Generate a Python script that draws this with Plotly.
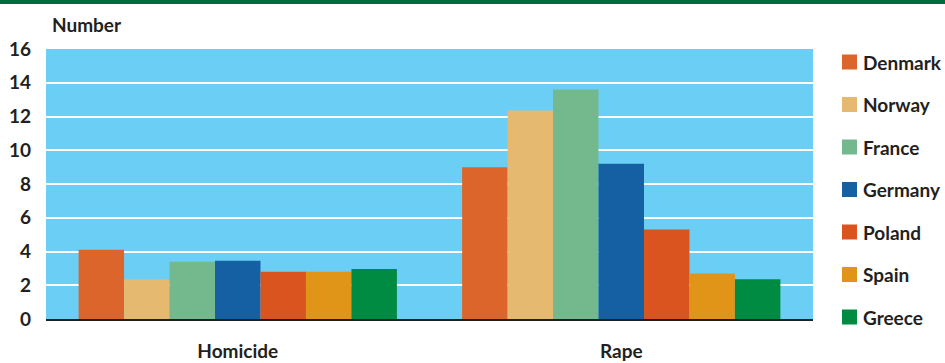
import plotly.graph_objects as go

categories = ["Homicide", "Rape"]
countries = ["Denmark", "Norway", "France", "Germany", "Poland", "Spain", "Greece"]
homicide = [4.1, 2.35, 3.4, 3.45, 2.8, 2.8, 2.97]
rape = [9.0, 12.35, 13.6, 9.2, 5.3, 2.7, 2.35]
colors = ["#dc652c", "#e5b970", "#74b88e", "#1560a3", "#d9541f", "#e09418", "#008b43"]
y_ticks = [0, 2, 4, 6, 8, 10, 12, 14, 16]

FONT = "Lato"
TXT = "#231f20"
W, H = 945, 363
ML, MR, MT, MB = 46, 132, 49, 44
PW, PH = W - ML - MR, H - MT - MB


def px_x(x):
    return (x - ML) / PW


def px_y(y):
    return (H - MB - y) / PH


fig = go.Figure()
for i, c in enumerate(countries):
    fig.add_trace(go.Bar(
        x=categories, y=[homicide[i], rape[i]], name=c,
        marker=dict(color=colors[i], line=dict(width=0)),
    ))

shapes = [dict(type="rect", xref="paper", yref="paper",
               x0=px_x(0), x1=px_x(W), y0=px_y(4), y1=px_y(-1),
               fillcolor="#006b3f", line=dict(width=0))]
annotations = [dict(text="<b>Number</b>", xref="paper", yref="paper", x=px_x(50), y=px_y(24),
                    xanchor="left", yanchor="middle", showarrow=False,
                    font=dict(family=FONT, size=19, color=TXT))]

leg_y0, leg_dy = 62, 42.5
for i, c in enumerate(countries):
    yc = leg_y0 + i * leg_dy
    shapes.append(dict(type="rect", xref="paper", yref="paper",
                       x0=px_x(842), x1=px_x(857), y0=px_y(yc + 7.5), y1=px_y(yc - 7.5),
                       fillcolor=colors[i], line=dict(width=0)))
    annotations.append(dict(text="<b>%s</b>" % c, xref="paper", yref="paper",
                            x=px_x(861), y=px_y(yc), xanchor="left", yanchor="middle",
                            showarrow=False, font=dict(family=FONT, size=19, color=TXT)))

fig.update_layout(
    width=W, height=H,
    margin=dict(l=ML, r=MR, t=MT, b=MB),
    paper_bgcolor="white", plot_bgcolor="#6bcff5",
    barmode="group", bargap=0.17, bargroupgap=0,
    font=dict(family=FONT, size=19, color=TXT),
    showlegend=False,
    xaxis=dict(
        showgrid=False, showline=True, linecolor=TXT, linewidth=2,
        ticks="", ticklabelstandoff=14, automargin=False,
        tickfont=dict(family=FONT, size=19, color=TXT, weight="bold"),
    ),
    yaxis=dict(
        range=[0, 16], tickvals=y_ticks, showgrid=True, gridcolor="white", gridwidth=2,
        zeroline=False, showline=False, ticks="", ticklabelstandoff=14, automargin=False,
        tickfont=dict(family=FONT, size=19, color=TXT, weight="bold"),
    ),
    shapes=shapes,
    annotations=annotations,
)

fig.write_html("out.html")
